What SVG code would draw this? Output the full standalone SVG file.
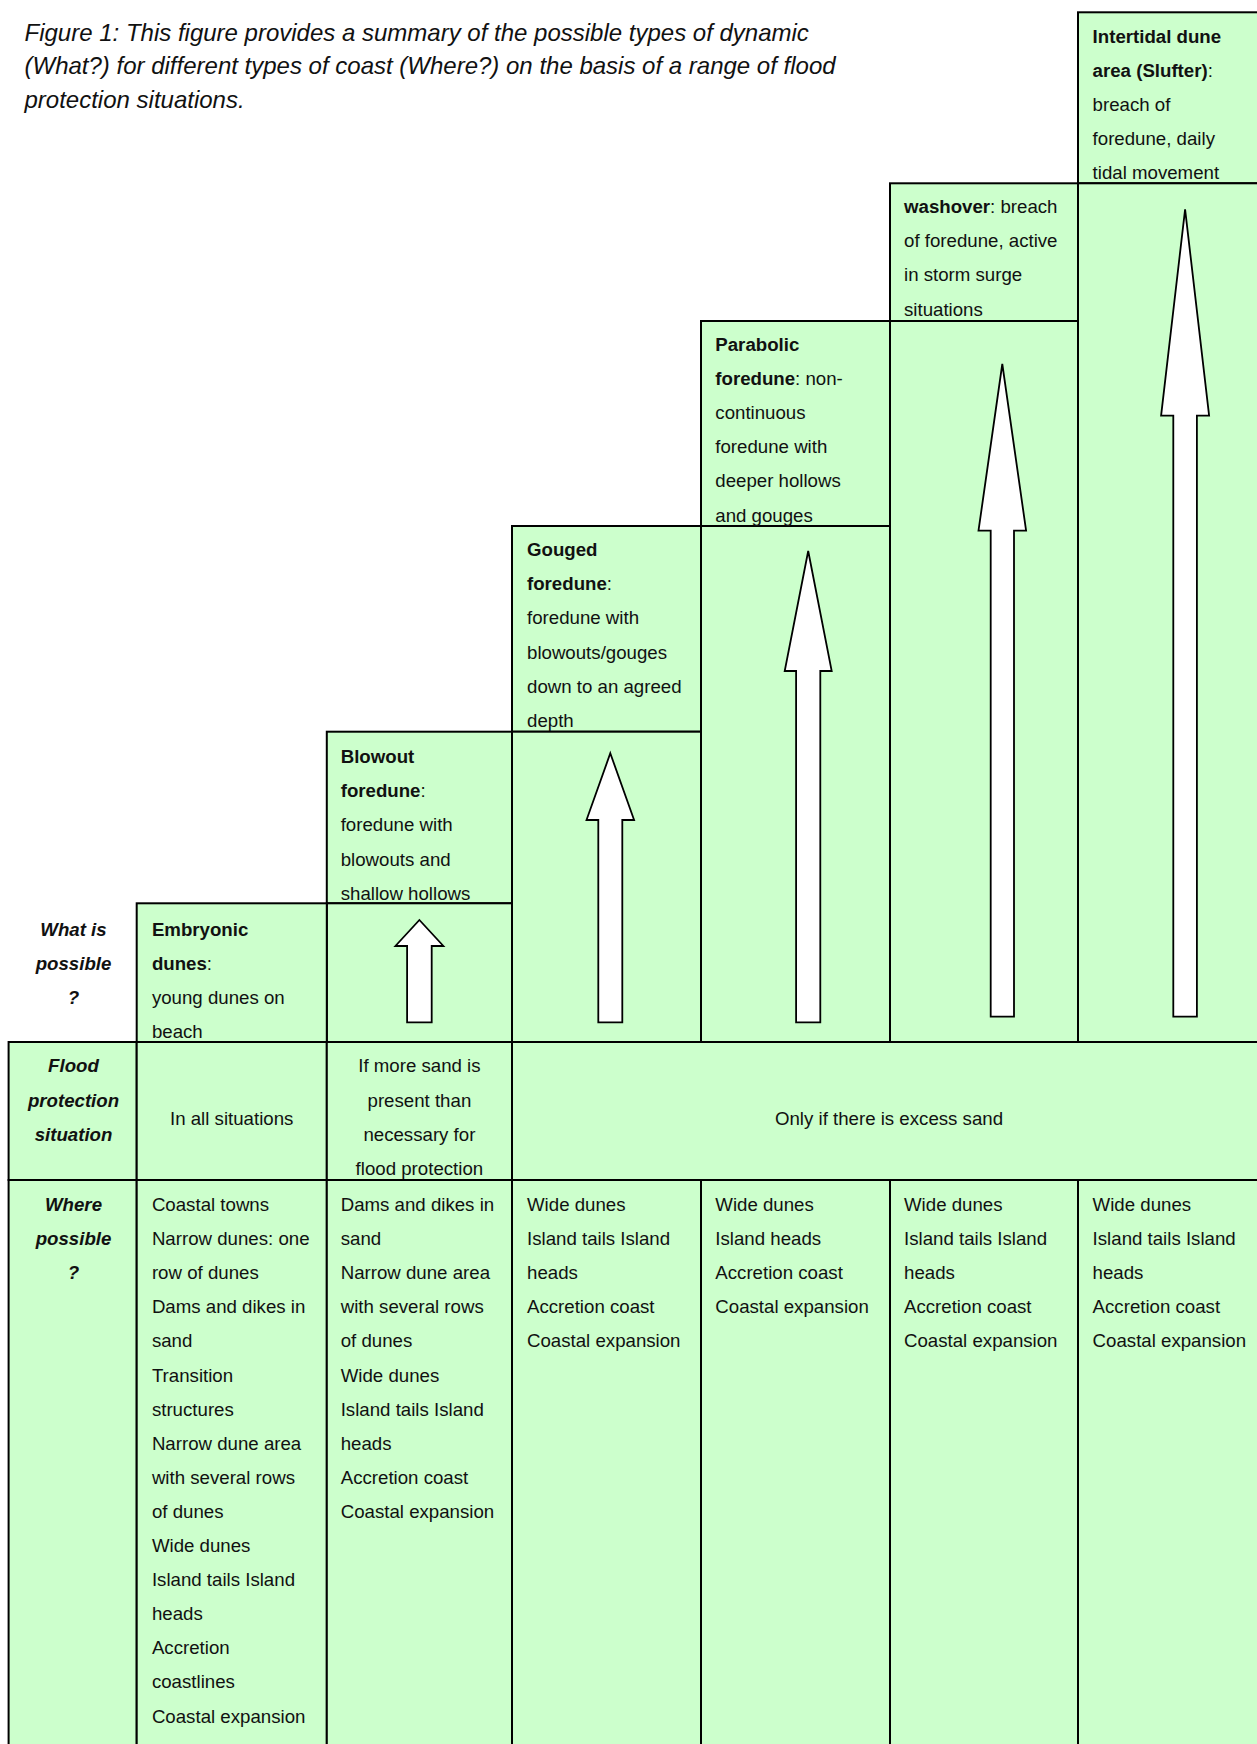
<svg xmlns="http://www.w3.org/2000/svg" width="1257" height="1744" viewBox="0 0 1257 1744">
<style>
.cell{fill:#ccffcc;stroke:#000;stroke-width:2}
.t{font-family:"Liberation Sans",Arial,sans-serif;font-size:18.67px;fill:#111}
.b{font-weight:bold}
.lab{font-family:"Liberation Sans",Arial,sans-serif;font-size:18.67px;font-weight:bold;font-style:italic;fill:#111;text-anchor:middle}
.c{text-anchor:middle}
.title{font-family:"Liberation Sans",Arial,sans-serif;font-size:24px;font-style:italic;fill:#111}
.arrow{fill:#fff;stroke:#000;stroke-width:1.8;stroke-linejoin:miter}
</style>
<rect width="1257" height="1744" fill="#fff"/>
<g id="title">
<text class="title"><tspan x="24.5" y="40.5">Figure 1: This figure provides a summary of the possible types of dynamic</tspan><tspan x="24.5" y="74">(What?) for different types of coast (Where?) on the basis of a range of flood</tspan><tspan x="24.5" y="107.5">protection situations.</tspan></text>
</g>
<g id="label-what">
<text class="lab"><tspan x="73.5" y="935.7">What is</tspan><tspan x="73.5" y="969.9">possible</tspan><tspan x="73.5" y="1004.1">?</tspan></text>
</g>
<g id="node-intertidal">
<rect class="cell" x="1078" y="12.3" width="188" height="171"/>
<rect class="cell" x="1078" y="183.3" width="188" height="858.7"/>
<text class="t"><tspan x="1092.6" y="42.6" class="b">Intertidal dune</tspan><tspan x="1092.6" y="76.8"><tspan class="b">area (Slufter)</tspan>:</tspan><tspan x="1092.6" y="111">breach of</tspan><tspan x="1092.6" y="145.2">foredune, daily</tspan><tspan x="1092.6" y="179.4">tidal movement</tspan></text>
</g>
<g id="node-washover">
<rect class="cell" x="890" y="183.3" width="188" height="137.7"/>
<rect class="cell" x="890" y="321" width="188" height="721"/>
<text class="t"><tspan x="904" y="213"><tspan class="b">washover</tspan>: breach</tspan><tspan x="904" y="247.2">of foredune, active</tspan><tspan x="904" y="281.4">in storm surge</tspan><tspan x="904" y="315.6">situations</tspan></text>
</g>
<g id="node-parabolic">
<rect class="cell" x="701" y="321" width="189" height="205"/>
<rect class="cell" x="701" y="526" width="189" height="516"/>
<text class="t"><tspan x="715.3" y="351" class="b">Parabolic</tspan><tspan x="715.3" y="385.1"><tspan class="b">foredune</tspan>: non-</tspan><tspan x="715.3" y="419.2">continuous</tspan><tspan x="715.3" y="453.3">foredune with</tspan><tspan x="715.3" y="487.4">deeper hollows</tspan><tspan x="715.3" y="521.5">and gouges</tspan></text>
</g>
<g id="node-gouged">
<rect class="cell" x="512" y="526" width="189" height="205.7"/>
<rect class="cell" x="512" y="731.7" width="189" height="310.3"/>
<text class="t"><tspan x="527" y="556" class="b">Gouged</tspan><tspan x="527" y="590.2"><tspan class="b">foredune</tspan>:</tspan><tspan x="527" y="624.4">foredune with</tspan><tspan x="527" y="658.6">blowouts/gouges</tspan><tspan x="527" y="692.8">down to an agreed</tspan><tspan x="527" y="727">depth</tspan></text>
</g>
<g id="node-blowout">
<rect class="cell" x="326.8" y="731.7" width="185.2" height="171.6"/>
<rect class="cell" x="326.8" y="903.3" width="185.2" height="138.7"/>
<text class="t"><tspan x="340.7" y="763" class="b">Blowout</tspan><tspan x="340.7" y="797.2"><tspan class="b">foredune</tspan>:</tspan><tspan x="340.7" y="831.4">foredune with</tspan><tspan x="340.7" y="865.6">blowouts and</tspan><tspan x="340.7" y="899.8">shallow hollows</tspan></text>
</g>
<g id="node-embryonic">
<rect class="cell" x="136.7" y="903.3" width="190.1" height="138.7"/>
<text class="t"><tspan x="151.9" y="935.7" class="b">Embryonic</tspan><tspan x="151.9" y="969.9"><tspan class="b">dunes</tspan>:</tspan><tspan x="151.9" y="1004.1">young dunes on</tspan><tspan x="151.9" y="1038.3">beach</tspan></text>
</g>
<g id="row-flood">
<rect class="cell" x="8.6" y="1042" width="128.1" height="138"/>
<rect class="cell" x="136.7" y="1042" width="190.1" height="138"/>
<rect class="cell" x="326.8" y="1042" width="185.2" height="138"/>
<rect class="cell" x="512" y="1042" width="754" height="138"/>
<text class="lab"><tspan x="73.5" y="1072.4">Flood</tspan><tspan x="73.5" y="1106.6">protection</tspan><tspan x="73.5" y="1140.8">situation</tspan></text>
<text class="t c" x="231.7" y="1124.7">In all situations</text>
<text class="t c"><tspan x="419.4" y="1072.4">If more sand is</tspan><tspan x="419.4" y="1106.6">present than</tspan><tspan x="419.4" y="1140.8">necessary for</tspan><tspan x="419.4" y="1175">flood protection</tspan></text>
<text class="t c" x="889" y="1124.7">Only if there is excess sand</text>
</g>
<g id="row-where">
<rect class="cell" x="8.6" y="1180" width="128.1" height="580"/>
<rect class="cell" x="136.7" y="1180" width="190.1" height="580"/>
<rect class="cell" x="326.8" y="1180" width="185.2" height="580"/>
<rect class="cell" x="512" y="1180" width="189" height="580"/>
<rect class="cell" x="701" y="1180" width="189" height="580"/>
<rect class="cell" x="890" y="1180" width="188" height="580"/>
<rect class="cell" x="1078" y="1180" width="188" height="580"/>
<text class="lab"><tspan x="73.5" y="1211">Where</tspan><tspan x="73.5" y="1245.1">possible</tspan><tspan x="73.5" y="1279.2">?</tspan></text>
<text class="t"><tspan x="151.9" y="1211">Coastal towns</tspan><tspan x="151.9" y="1245.1">Narrow dunes: one</tspan><tspan x="151.9" y="1279.2">row of dunes</tspan><tspan x="151.9" y="1313.3">Dams and dikes in</tspan><tspan x="151.9" y="1347.4">sand</tspan><tspan x="151.9" y="1381.5">Transition</tspan><tspan x="151.9" y="1415.6">structures</tspan><tspan x="151.9" y="1449.7">Narrow dune area</tspan><tspan x="151.9" y="1483.8">with several rows</tspan><tspan x="151.9" y="1517.9">of dunes</tspan><tspan x="151.9" y="1552">Wide dunes</tspan><tspan x="151.9" y="1586.1">Island tails Island</tspan><tspan x="151.9" y="1620.2">heads</tspan><tspan x="151.9" y="1654.3">Accretion</tspan><tspan x="151.9" y="1688.4">coastlines</tspan><tspan x="151.9" y="1722.5">Coastal expansion</tspan></text>
<text class="t"><tspan x="340.7" y="1211">Dams and dikes in</tspan><tspan x="340.7" y="1245.1">sand</tspan><tspan x="340.7" y="1279.2">Narrow dune area</tspan><tspan x="340.7" y="1313.3">with several rows</tspan><tspan x="340.7" y="1347.4">of dunes</tspan><tspan x="340.7" y="1381.5">Wide dunes</tspan><tspan x="340.7" y="1415.6">Island tails Island</tspan><tspan x="340.7" y="1449.7">heads</tspan><tspan x="340.7" y="1483.8">Accretion coast</tspan><tspan x="340.7" y="1517.9">Coastal expansion</tspan></text>
<text class="t"><tspan x="527" y="1211">Wide dunes</tspan><tspan x="527" y="1245.1">Island tails Island</tspan><tspan x="527" y="1279.2">heads</tspan><tspan x="527" y="1313.3">Accretion coast</tspan><tspan x="527" y="1347.4">Coastal expansion</tspan></text>
<text class="t"><tspan x="715.3" y="1211">Wide dunes</tspan><tspan x="715.3" y="1245.1">Island heads</tspan><tspan x="715.3" y="1279.2">Accretion coast</tspan><tspan x="715.3" y="1313.3">Coastal expansion</tspan></text>
<text class="t"><tspan x="904" y="1211">Wide dunes</tspan><tspan x="904" y="1245.1">Island tails Island</tspan><tspan x="904" y="1279.2">heads</tspan><tspan x="904" y="1313.3">Accretion coast</tspan><tspan x="904" y="1347.4">Coastal expansion</tspan></text>
<text class="t"><tspan x="1092.6" y="1211">Wide dunes</tspan><tspan x="1092.6" y="1245.1">Island tails Island</tspan><tspan x="1092.6" y="1279.2">heads</tspan><tspan x="1092.6" y="1313.3">Accretion coast</tspan><tspan x="1092.6" y="1347.4">Coastal expansion</tspan></text>
</g>
<g id="connectors">
<polygon class="arrow" points="419.4,920 443.4,946 431.7,946 431.7,1022.3 407.1,1022.3 407.1,946 395.4,946"/>
<polygon class="arrow" points="610.3,753.3 634.1,820 622.3,820 622.3,1022.3 598.3,1022.3 598.3,820 586.5,820"/>
<polygon class="arrow" points="808.2,551 831.7,671 820.3,671 820.3,1022.3 796.1,1022.3 796.1,671 784.7,671"/>
<polygon class="arrow" points="1002.3,364 1026.1,530.7 1014,530.7 1014,1016.7 990.7,1016.7 990.7,530.7 978.5,530.7"/>
<polygon class="arrow" points="1185.1,209.3 1209.1,415.7 1196.9,415.7 1196.9,1016.7 1173.3,1016.7 1173.3,415.7 1161.1,415.7"/>
</g>
</svg>
